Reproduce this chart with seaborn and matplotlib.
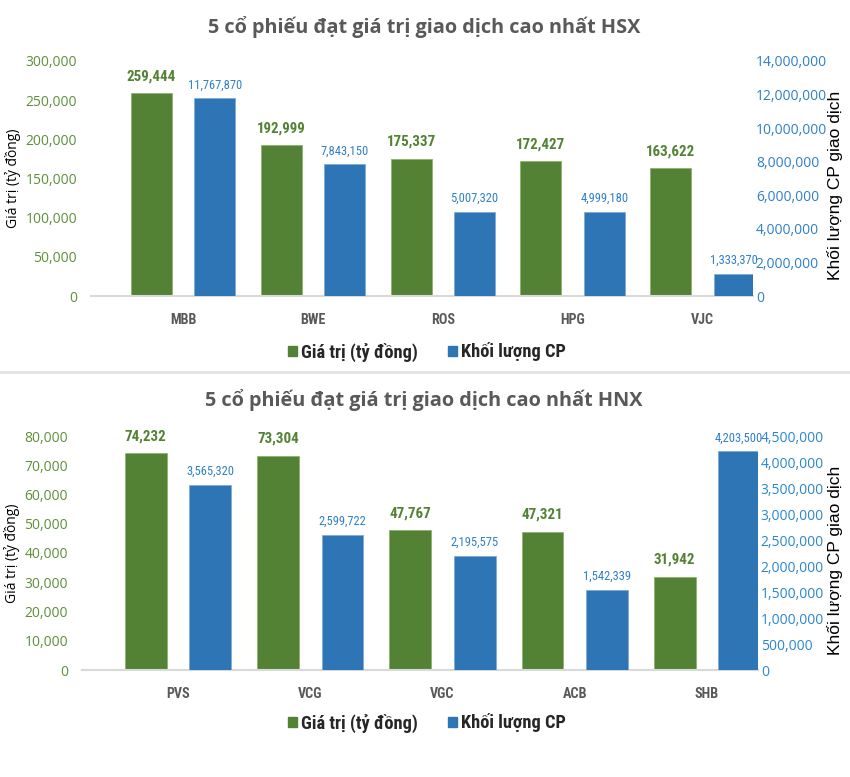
import numpy as np
import pandas as pd
import matplotlib
matplotlib.use('Agg')
import matplotlib.pyplot as plt
import seaborn as sns
from matplotlib.patches import Patch
from matplotlib.lines import Line2D
from matplotlib.ticker import FuncFormatter, MultipleLocator
from matplotlib import font_manager

# ---------------- data ----------------
hsx_codes = ['MBB', 'BWE', 'ROS', 'HPG', 'VJC']
hsx_value = [259444, 192999, 175337, 172427, 163622]
hsx_volume = [11767870, 7843150, 5007320, 4999180, 1333370]

hnx_codes = ['PVS', 'VCG', 'VGC', 'ACB', 'SHB']
hnx_value = [74232, 73304, 47767, 47321, 31942]
hnx_volume = [3565320, 2599722, 2195575, 1542339, 4203500]

hsx_title = '5 cổ phiếu đạt giá trị giao dịch cao nhất HSX'
hnx_title = '5 cổ phiếu đạt giá trị giao dịch cao nhất HNX'
series_names = ['Giá trị (tỷ đồng)', 'Khối lượng CP']
left_label = 'Giá trị (tỷ đồng)'
right_label = 'Khối lượng CP giao dịch'

# ---------------- style ----------------
sns.set_theme(style='white')
plt.rcParams['font.family'] = ['Open Sans', 'DejaVu Sans']
allnames = {f.name for f in font_manager.fontManager.ttflist}
NARROW = ['Roboto Condensed' if 'Roboto Condensed' in allnames else 'Liberation Sans',
          'Liberation Sans']

GREEN = '#548235'
BLUE = '#2E75B6'
GREEN_TXT = '#5F8F3A'
BLUE_TXT = '#2F7FC8'
GREY = '#595959'

W, H = 850, 777
fig = plt.figure(figsize=(W / 100, H / 100), dpi=100)

OFF = 0.244
BW = 0.316


def px_rect(x0, y_top, x1, y_bot):
    return [x0 / W, 1 - y_bot / H, (x1 - x0) / W, (y_bot - y_top) / H]


def draw(rect, codes, vals, vols, lmax, lstep, rmax, rstep, xlim, rtick_color, lab_x):
    ax = fig.add_axes(rect)
    ax2 = ax.twinx()
    pos = np.arange(len(codes))
    dfg = pd.DataFrame({'x': pos - OFF, 'v': vals})
    dfb = pd.DataFrame({'x': pos + OFF, 'v': vols})
    sns.barplot(data=dfg, x='x', y='v', native_scale=True, width=BW, color=GREEN,
                saturation=1, errorbar=None, orient='x', ax=ax,
                edgecolor='#8FB070', linewidth=0.6)
    sns.barplot(data=dfb, x='x', y='v', native_scale=True, width=BW, color=BLUE,
                saturation=1, errorbar=None, orient='x', ax=ax2,
                edgecolor='#7FAAD6', linewidth=0.6)
    for a in (ax, ax2):
        a.set_xlim(*xlim)
        for s in a.spines.values():
            s.set_visible(False)
        a.grid(False)
        a.set_xlabel('')
    ax.spines['bottom'].set_visible(True)
    ax.spines['bottom'].set_color('#D9D9D9')
    ax.spines['bottom'].set_linewidth(1.5)

    ax.set_ylim(0, lmax)
    ax2.set_ylim(0, rmax)
    ax.yaxis.set_major_locator(MultipleLocator(lstep))
    ax2.yaxis.set_major_locator(MultipleLocator(rstep))
    fmt = FuncFormatter(lambda v, p: f'{int(round(v)):,}')
    ax.yaxis.set_major_formatter(fmt)
    ax2.yaxis.set_major_formatter(fmt)
    ax.tick_params(axis='y', length=0, pad=10, labelsize=10, labelcolor=GREEN_TXT)
    ax2.tick_params(axis='y', length=0, pad=2, labelsize=10, labelcolor=rtick_color)
    ax.set_xticks(pos)
    ax.set_xticklabels(codes, fontfamily=NARROW, fontweight='bold', fontsize=10.2, color=GREY)
    ax.tick_params(axis='x', length=0, pad=12)

    ax.bar_label(ax.containers[0], labels=[f'{v:,}' for v in vals], padding=7,
                 fontfamily=NARROW, fontweight='bold', fontsize=10.8, color=GREEN)
    ax2.bar_label(ax2.containers[0], labels=[f'{v:,}' for v in vols], padding=5,
                  fontfamily=NARROW, fontsize=9, color=BLUE_TXT)

    ax.set_ylabel(left_label, fontsize=10, color='black')
    ax.yaxis.set_label_coords(lab_x[0], 0.5)
    ax2.set_ylabel(right_label, fontsize=12.5, color='black', fontfamily='Liberation Sans',
                   rotation=90)
    ax2.yaxis.set_label_coords(lab_x[1], 0.47)
    return ax, ax2


# HSX chart
draw(px_rect(91, 61, 753, 296), hsx_codes, hsx_value, hsx_volume,
     300000, 50000, 14000000, 2000000, (-0.709, 4.39), BLUE_TXT, (-0.106, 1.112))
fig.text(424 / W, 1 - 27 / H, hsx_title, ha='center', va='center', fontsize=14.3,
         fontweight='bold', color=GREY)

# HNX chart
draw(px_rect(82, 436, 758, 670), hnx_codes, hnx_value, hnx_volume,
     80000, 10000, 4500000, 500000, (-0.726, 4.386), '#2A86D1', (-0.092, 1.102))
fig.text(424 / W, 1 - 400 / H, hnx_title, ha='center', va='center', fontsize=14.3,
         fontweight='bold', color=GREY)

# separator
fig.add_artist(Line2D([0, 1], [1 - 372 / H] * 2, color='#E3E3E3', lw=2))

# legends
handles = [Patch(facecolor=GREEN, edgecolor=GREEN), Patch(facecolor=BLUE, edgecolor=BLUE)]
for ly in (352, 723):
    fig.legend(handles, series_names, loc='center', bbox_to_anchor=(427 / W, 1 - ly / H),
               ncol=2, frameon=False, handlelength=0.5, handleheight=0.5,
               handletextpad=0.25, columnspacing=1.6,
               prop={'family': NARROW, 'weight': 'bold', 'size': 13.2})

fig.savefig('out.png', dpi=100)
